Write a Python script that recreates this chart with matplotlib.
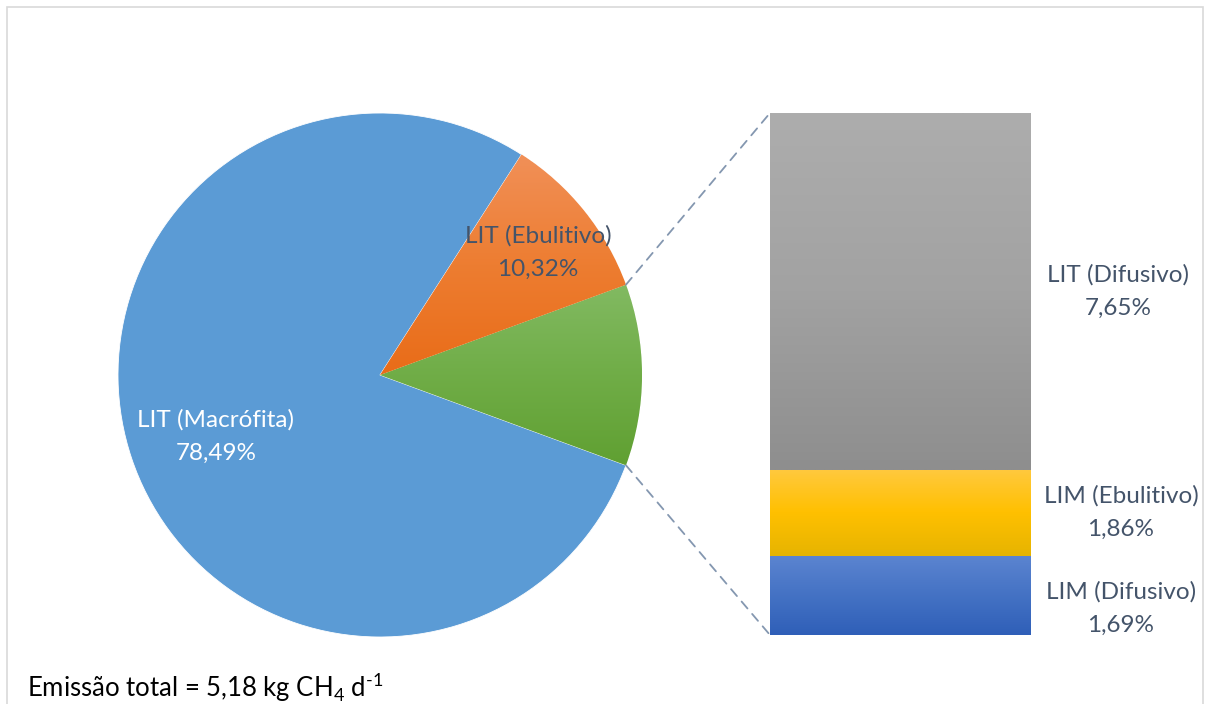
import numpy as np
import matplotlib
matplotlib.use("Agg")
import matplotlib.pyplot as plt
from matplotlib.colors import LinearSegmentedColormap
from matplotlib.patches import Rectangle, ConnectionPatch

plt.rcParams['font.family'] = ['Lato', 'DejaVu Sans']
plt.rcParams['mathtext.fontset'] = 'custom'
plt.rcParams['mathtext.rm'] = 'Lato'

# ---- data ----
pie_labels = ["LIT (Difusivo)+LIM", "LIT (Ebulitivo)", "LIT (Macrófita)"]
bar_labels = ["LIM (Difusivo)", "LIM (Ebulitivo)", "LIT (Difusivo)"]
bar_values = [1.69, 1.86, 7.65]
ebul_value = 10.32
macro_value = 78.49
other_value = sum(bar_values)
pie_values = [other_value, ebul_value, macro_value]

W, H = 1208, 704
fig = plt.figure(figsize=(W / 100, H / 100), dpi=100)
fig.patch.set_facecolor('white')

# outer chart frame
fig.patches.append(Rectangle((7.5 / W, -0.02), (1202.5 - 7.5) / W, 1 - 6.5 / H + 0.02,
                             transform=fig.transFigure, fill=False,
                             edgecolor='#d9d9d9', lw=1.2))

def grad_fill(ax, patch, stops):
    cmap = LinearSegmentedColormap.from_list('g', stops)
    bb = patch.get_path().transformed(patch.get_patch_transform()).get_extents()
    grad = np.linspace(0, 1, 256).reshape(-1, 1)
    im = ax.imshow(grad, cmap=cmap, aspect='auto', origin='upper',
                   extent=[bb.x0, bb.x1, bb.y0, bb.y1], zorder=patch.get_zorder() + 0.1,
                   interpolation='bilinear')
    im.set_clip_path(patch)
    return im

FS = 17.5
LS = 1.72

# ---- pie ----
pie_px = (118, 113, 642, 637)  # left, top, right, bottom in pixels
axp = fig.add_axes([pie_px[0] / W, 1 - pie_px[3] / H,
                    (pie_px[2] - pie_px[0]) / W, (pie_px[3] - pie_px[1]) / H])
start = -other_value / sum(pie_values) * 360 / 2
wedges, _ = axp.pie(pie_values, startangle=start, counterclock=True,
                    colors=['#70ad47', '#ed7d31', '#5b9bd5'],
                    wedgeprops=dict(edgecolor='white', linewidth=0.6))
axp.set_xlim(-1, 1)
axp.set_ylim(-1, 1)
axp.set_aspect('equal')
axp.axis('off')

grad_fill(axp, wedges[0], ['#82ba62', '#70ad47', '#60a032'])
grad_fill(axp, wedges[1], ['#f19058', '#ed7d31', '#e96c18'])

label_color = '#44546a'
axp.text(-0.626, -0.233, "LIT (Macrófita)\n" + f"{macro_value:.2f}%".replace('.', ','),
         ha='center', va='center', color='white', fontsize=FS, linespacing=LS, zorder=5)
axp.text(0.603, 0.469, "LIT (Ebulitivo)\n" + f"{ebul_value:.2f}%".replace('.', ','),
         ha='center', va='center', color=label_color, fontsize=FS, linespacing=LS, zorder=5)

# ---- bar ----
bar_px = (770, 113, 1031, 635)
axb = fig.add_axes([bar_px[0] / W, 1 - bar_px[3] / H,
                    (bar_px[2] - bar_px[0]) / W, (bar_px[3] - bar_px[1]) / H])
bar_stops = [['#5b84d0', '#4472c4', '#2f5fb8'],
             ['#ffc93f', '#ffc000', '#e6b400'],
             ['#adadad', '#a2a2a2', '#8e8e8e']]
bottoms = np.concatenate([[0], np.cumsum(bar_values)[:-1]])
bars = axb.bar([0] * 3, bar_values, bottom=bottoms, width=1.0,
               color=[s[1] for s in bar_stops], linewidth=0)
for b, s in zip(bars, bar_stops):
    bb = b.get_bbox()
    cmap = LinearSegmentedColormap.from_list('g', s)
    im = axb.imshow(np.linspace(0, 1, 256).reshape(-1, 1), cmap=cmap, aspect='auto',
                    origin='upper', extent=[bb.x0, bb.x1, bb.y0, bb.y1],
                    interpolation='bilinear', zorder=2)
    im.set_clip_path(b)
axb.set_xlim(-0.5, 0.5)
axb.set_ylim(0, other_value)
axb.axis('off')

label_y_offsets = [-0.28, 0, 0]
label_x = [1.345, 1.345, 1.333]
for i, (lab, v) in enumerate(zip(bar_labels, bar_values)):
    yc = bottoms[i] + v / 2 + label_y_offsets[i]
    axb.text(label_x[i], yc, lab + "\n" + f"{v:.2f}%".replace('.', ','),
             transform=axb.get_yaxis_transform(), ha='center', va='center',
             color=label_color, fontsize=FS, linespacing=LS, clip_on=False)

# ---- connector lines ----
t1 = np.deg2rad(wedges[0].theta2)
t2 = np.deg2rad(wedges[0].theta1)
for th, yb in [(t1, other_value), (t2, 0)]:
    con = ConnectionPatch(xyA=(np.cos(th), np.sin(th)), coordsA=axp.transData,
                          xyB=(-0.5, yb), coordsB=axb.transData,
                          color='#8497b0', lw=1.3, linestyle=(0, (5, 4)))
    fig.add_artist(con)

# ---- footnote ----
fig.text(27 / W, 1 - 697 / H,
         r"Emissão total = 5,18 kg CH$_\mathregular{4}$ d$^{\text{-}\mathregular{1}}$",
         ha='left', va='baseline', color='black', fontsize=18.5)

fig.savefig('out.png', dpi=100, facecolor='white')
